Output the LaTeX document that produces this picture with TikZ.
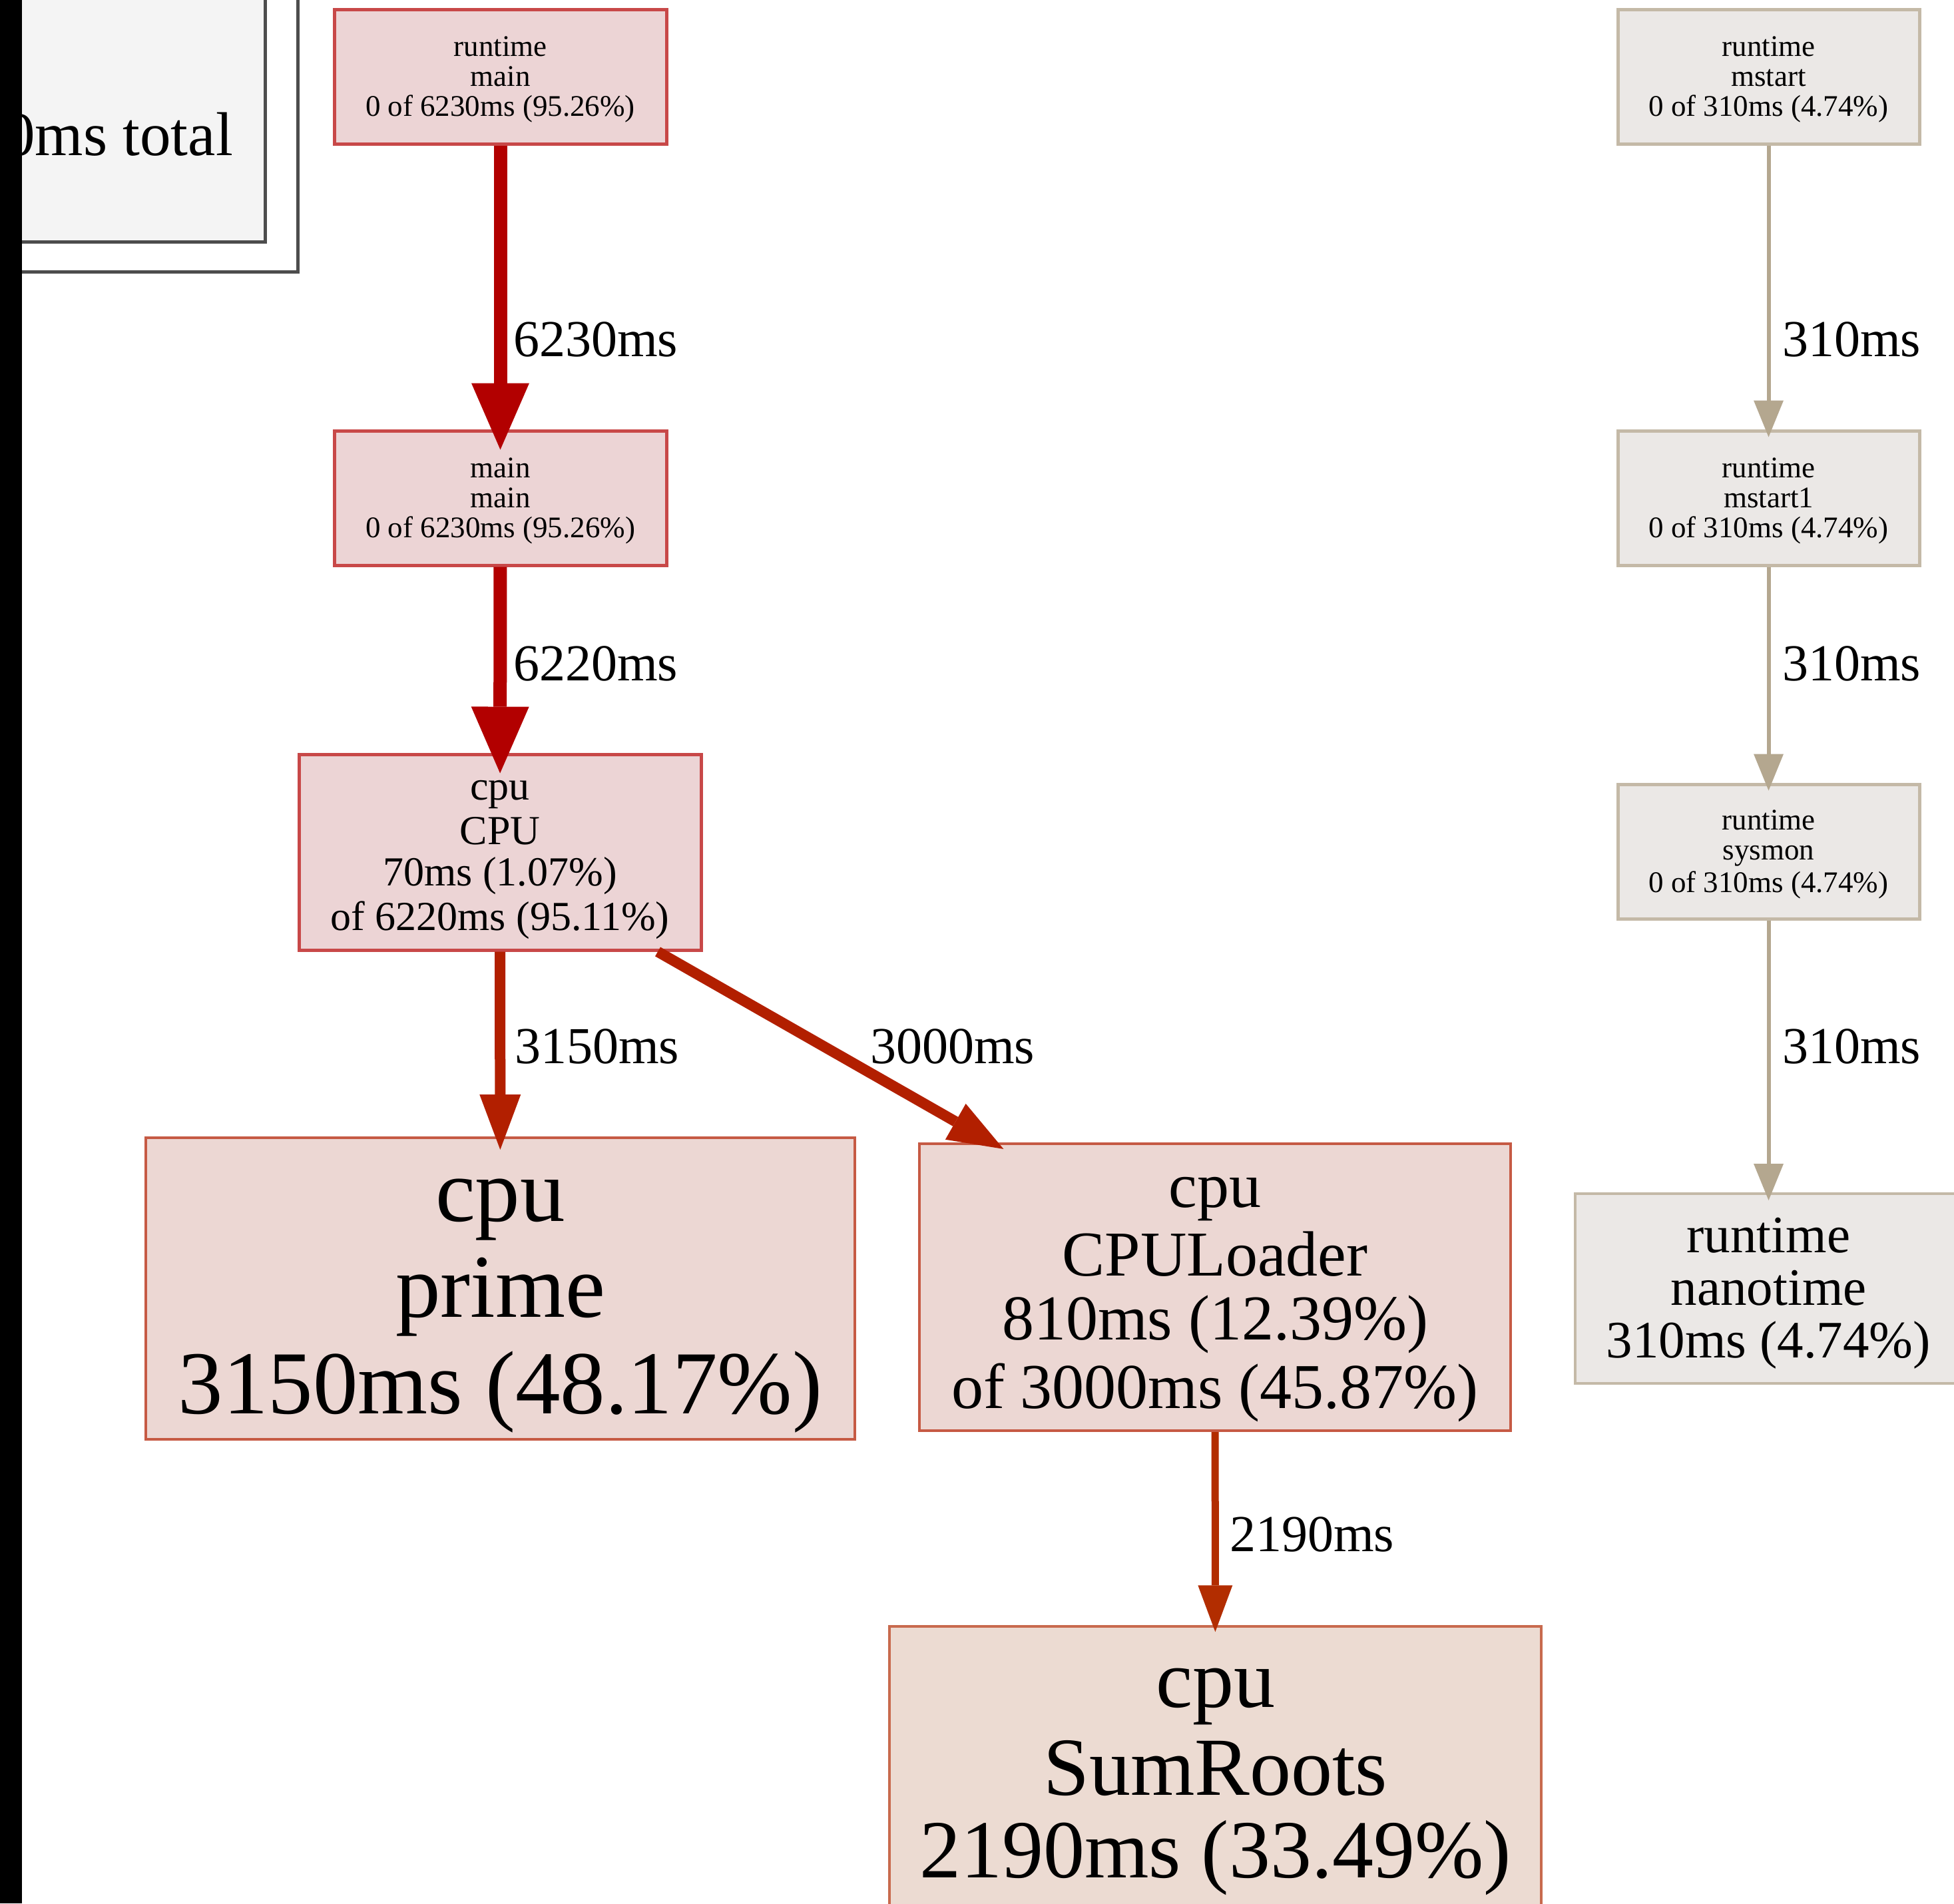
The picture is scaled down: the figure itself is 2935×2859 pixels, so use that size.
\documentclass[tikz,border=0pt]{standalone}
\usepackage{fontspec}
\setmainfont{Liberation Serif}
\usetikzlibrary{arrows.meta,calc}

% colours of the call graph
\definecolor{hotfill}{HTML}{ECD4D5}
\definecolor{hotline}{HTML}{C84848}
\definecolor{hotedge}{HTML}{B20000}
\definecolor{warmfill}{HTML}{ECD7D3}
\definecolor{warmline}{HTML}{C65A44}
\definecolor{warmedge}{HTML}{B21F00}
\definecolor{mildfill}{HTML}{ECDBD2}
\definecolor{mildline}{HTML}{C86A4E}
\definecolor{mildedge}{HTML}{B22D00}
\definecolor{coldfill}{HTML}{EBE8E6}
\definecolor{coldline}{HTML}{C4B9A7}
\definecolor{coldedge}{HTML}{B4A78F}
\definecolor{legendfill}{HTML}{F4F4F4}
\definecolor{legendline}{HTML}{4D4D4D}

% a line of node text: fixed pitch, baseline slightly below the slot centre
\newcommand{\gvstrut}{\rule[-0.15\baselineskip]{0pt}{\baselineskip}}

\tikzset{
  fn/.style={font=\fontsize{#1}{#1}\selectfont},
  gvnode/.style={draw, rectangle, inner sep=0pt, align=center, text=black},
  hotnode/.style={gvnode, fill=hotfill, draw=hotline, line width=5pt},
  warmnode/.style={gvnode, fill=warmfill, draw=warmline, line width=4pt},
  mildnode/.style={gvnode, fill=mildfill, draw=mildline, line width=3.5pt},
  coldnode/.style={gvnode, fill=coldfill, draw=coldline, line width=5pt},
  elabel/.style={fn=78, anchor=base west, inner sep=0pt, text=black},
  hotarrow/.style={draw=hotedge, line width=20pt,
    -{Triangle[length=100pt,width=87pt,line width=0pt]}, shorten >=-31pt},
  warmarrow/.style={draw=warmedge, line width=16pt,
    -{Triangle[length=83pt,width=62pt,line width=0pt]}, shorten >=-20pt},
  mildarrow/.style={draw=mildedge, line width=11pt,
    -{Triangle[length=70pt,width=52pt,line width=0pt]}, shorten >=-10pt},
  coldarrow/.style={draw=coldedge, line width=6pt,
    -{Triangle[length=55pt,width=45pt,line width=0pt]}, shorten >=-12pt},
  legendbox/.style={draw=legendline, line width=5pt},
}

\begin{document}
\begin{tikzpicture}[x=1pt,y=-1pt]
\useasboundingbox (0,0) rectangle (2935,2859);
\clip (0,0) rectangle (2935,2859);
\fill[white] (0,0) rectangle (2935,2859);

% legend box in the corner
\draw[legendbox] (-60,-60) rectangle (447,408);
\draw[legendbox, fill=legendfill] (-60,-60) rectangle (398,363);
\node[fn=93, anchor=base east, inner sep=0pt] (legend) at (350,233) {0ms total};

% main call chain
\node[hotnode, fn=45, minimum width=499pt, minimum height=202pt] (rtmain) at (751.5,115)
  {\gvstrut runtime\\\gvstrut main\\\gvstrut 0 of 6230ms (95.26\%)};
\node[hotnode, fn=45, minimum width=499pt, minimum height=202pt] (mainmain) at (751.5,748)
  {\gvstrut main\\\gvstrut main\\\gvstrut 0 of 6230ms (95.26\%)};
\node[hotnode, fn=62, minimum width=604pt, minimum height=294pt] (cpu) at (751,1280)
  {\gvstrut cpu\\\gvstrut CPU\\\gvstrut 70ms (1.07\%)\\\gvstrut of 6220ms (95.11\%)};
\node[warmnode, fn=135, minimum width=1065pt, minimum height=453pt] (prime) at (751.5,1935.5)
  {\gvstrut cpu\\\gvstrut prime\\\gvstrut 3150ms (48.17\%)};
\node[warmnode, fn=96, minimum width=888pt, minimum height=431pt] (loader) at (1825,1933.5)
  {\gvstrut cpu\\\gvstrut CPULoader\\\gvstrut 810ms (12.39\%)\\\gvstrut of 3000ms (45.87\%)};
\node[mildnode, fn=124, minimum width=979pt, minimum height=420pt] (roots) at (1825.5,2653)
  {\gvstrut cpu\\\gvstrut SumRoots\\\gvstrut 2190ms (33.49\%)};

% runtime monitor chain
\node[coldnode, fn=45, minimum width=453pt, minimum height=202pt] (mstart) at (2656.5,115)
  {\gvstrut runtime\\\gvstrut mstart\\\gvstrut 0 of 310ms (4.74\%)};
\node[coldnode, fn=45, minimum width=453pt, minimum height=202pt] (mstartone) at (2656.5,748)
  {\gvstrut runtime\\\gvstrut mstart1\\\gvstrut 0 of 310ms (4.74\%)};
\node[coldnode, fn=45, minimum width=453pt, minimum height=202pt] (sysmon) at (2656.5,1279)
  {\gvstrut runtime\\\gvstrut sysmon\\\gvstrut 0 of 310ms (4.74\%)};
\node[coldnode, line width=4pt, fn=79, minimum width=581pt, minimum height=285pt] (nanotime) at (2656.5,1935.5)
  {\gvstrut runtime\\\gvstrut nanotime\\\gvstrut 310ms (4.74\%)};

% connectors
\draw[hotarrow] (rtmain) -- (mainmain);
\draw[hotarrow] (mainmain) -- (cpu);
\draw[warmarrow] (cpu) -- (prime);
\draw[warmarrow] ($(cpu.south)+(237,0)$) -- ($(loader.north west)+(111,0)$);
\draw[mildarrow] (loader) -- (roots);
\draw[coldarrow] (mstart) -- (mstartone);
\draw[coldarrow] (mstartone) -- (sysmon);
\draw[coldarrow] (sysmon) -- (nanotime);

% connector labels
\node[elabel] (l1) at (771,535) {6230ms};
\node[elabel] (l2) at (771,1022) {6220ms};
\node[elabel] (l3) at (773,1597) {3150ms};
\node[elabel] (l4) at (1307,1597) {3000ms};
\node[elabel] (l5) at (1847,2330) {2190ms};
\node[elabel] (l6) at (2677,535) {310ms};
\node[elabel] (l7) at (2677,1022) {310ms};
\node[elabel] (l8) at (2677,1597) {310ms};

% dark strip along the left edge
\fill[black] (0,0) rectangle (33,2859);
\end{tikzpicture}
\end{document}
